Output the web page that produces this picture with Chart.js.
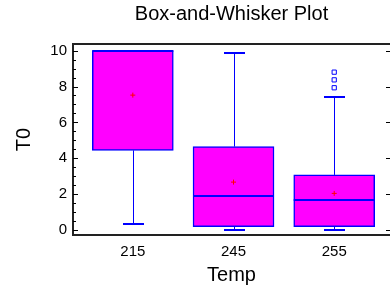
<!DOCTYPE html>
<html>
<head>
<meta charset="utf-8">
<script src="https://cdn.jsdelivr.net/npm/chart.js@4.4.0/dist/chart.umd.min.js"></script>
<style>
html, body { margin: 0; padding: 0; background: #fff; overflow: hidden; }
#wrap { position: absolute; left: 0; top: 0; width: 395px; height: 292px; }
</style>
</head>
<body>
<div id="wrap"><canvas id="myChart"></canvas></div>
<script>
// Data
const categories = ['215', '245', '255'];
const q1 = [4.44, 0.19, 0.19];
const q3 = [10.0, 4.65, 3.07];
const medians = [10.0, 1.91, 1.65];
const means = [7.52, 2.67, 2.04];
const whiskerLow = [0.33, 0.0, 0.0];
const whiskerHigh = [10.0, 9.85, 7.41];
const outlierCat = [2, 2, 2];
const outlierVal = [7.93, 8.37, 8.8];
const yTicks = [0, 2, 4, 6, 8, 10];

const FONT = "'Liberation Sans', Arial, sans-serif";
const BLUE = '#0000ff';

// whiskers, caps, medians and the frame with inward ticks
const boxParts = {
    id: 'boxParts',
    afterDatasetsDraw(chart) {
        const { ctx, chartArea, scales: { x, y } } = chart;
        const seg = (x1, y1, x2, y2) => {
            ctx.beginPath();
            ctx.moveTo(x1, y1);
            ctx.lineTo(x2, y2);
            ctx.stroke();
        };
        ctx.save();
        ctx.strokeStyle = BLUE;
        categories.forEach((c, i) => {
            const cx = Math.round(x.getPixelForValue(i)) + 0.5;
            const yq1 = y.getPixelForValue(q1[i]);
            const yq3 = y.getPixelForValue(q3[i]);
            const yLo = Math.round(y.getPixelForValue(whiskerLow[i]));
            const yHi = Math.round(y.getPixelForValue(whiskerHigh[i]));
            ctx.lineWidth = 1;
            if (whiskerHigh[i] > q3[i]) seg(cx, yq3, cx, yHi);
            if (whiskerLow[i] < q1[i]) seg(cx, yq1, cx, yLo);
            ctx.lineWidth = 2;
            if (whiskerHigh[i] > q3[i]) seg(cx - 10.5, yHi, cx + 10.5, yHi);
            if (whiskerLow[i] < q1[i]) seg(cx - 10.5, yLo, cx + 10.5, yLo);
            // median
            const meta = chart.getDatasetMeta(0).data[i];
            const half = meta.width / 2;
            const ym = Math.round(y.getPixelForValue(medians[i]));
            seg(meta.x - half, ym, meta.x + half, ym);
        });

        // frame
        ctx.strokeStyle = '#222';
        ctx.lineWidth = 2;
        const { left, right, top, bottom } = chartArea;
        seg(left, top, right, top);
        seg(left, top - 1, left, bottom + 1);
        seg(left - 1, bottom, right, bottom);
        // inward ticks on left (major + minor) and right (major)
        ctx.lineWidth = 1;
        ctx.strokeStyle = '#000';
        for (let v = 0; v <= 10; v += 0.5) {
            const py = Math.round(y.getPixelForValue(v)) + 0.5;
            const major = v % 2 === 0;
            seg(left, py, left + (major ? 5 : 3), py);
            if (major) seg(right, py, right - 4, py);
        }
        ctx.restore();
    }
};

const config = {
    type: 'bar',
    data: {
        datasets: [{
            type: 'bar',
            data: categories.map((c, i) => ({ x: i, y: [q1[i], q3[i]] })),
            backgroundColor: '#ff00ff',
            borderColor: BLUE,
            borderWidth: 1.5,
            borderSkipped: false,
            barThickness: 81,
            order: 2
        }, {
            type: 'scatter',
            data: categories.map((c, i) => ({ x: i, y: means[i] })),
            pointStyle: 'cross',
            pointRadius: 2.5,
            borderColor: '#ff0000',
            borderWidth: 1,
            order: 0
        }, {
            type: 'scatter',
            data: outlierVal.map((v, i) => ({ x: outlierCat[i], y: v })),
            pointStyle: 'rect',
            pointRadius: 3,
            backgroundColor: '#ffffff',
            borderColor: BLUE,
            borderWidth: 1,
            order: 0
        }]
    },
    options: {
        responsive: true,
        maintainAspectRatio: false,
        animation: false,
        layout: { padding: 0 },
        scales: {
            x: {
                type: 'linear',
                offset: false,
                min: -0.594,
                max: 2.554,
                afterBuildTicks: scale => { scale.ticks = categories.map((c, i) => ({ value: i })); },
                afterFit: scale => { scale.height = 57; },
                grid: { display: false, drawTicks: false, offset: false },
                border: { display: false },
                ticks: {
                    padding: 8,
                    color: '#000',
                    font: { family: FONT, size: 15 },
                    callback: v => categories[v]
                },
                title: {
                    display: true,
                    text: 'Temp',
                    color: '#000',
                    font: { family: FONT, size: 20 },
                    padding: { top: 0, bottom: 5 }
                }
            },
            y: {
                min: -0.28,
                max: 10.37,
                afterBuildTicks: scale => { scale.ticks = yTicks.map(v => ({ value: v })); },
                afterFit: scale => { scale.width = 73; },
                grid: { display: false, drawTicks: false },
                border: { display: false },
                ticks: {
                    padding: 6,
                    color: '#000',
                    font: { family: FONT, size: 15 },
                    callback: v => String(v)
                },
                title: {
                    display: true,
                    text: 'T0',
                    color: '#000',
                    font: { family: FONT, size: 20 },
                    padding: { top: 12, bottom: 0 }
                }
            }
        },
        plugins: {
            legend: { display: false },
            tooltip: { enabled: false },
            title: {
                display: true,
                text: 'Box-and-Whisker Plot',
                fullSize: false,
                color: '#000',
                font: { family: FONT, size: 20, weight: 'normal' },
                padding: { top: 2, bottom: 18 }
            }
        }
    },
    plugins: [boxParts]
};

const ctx = document.getElementById('myChart').getContext('2d');
new Chart(ctx, config);
</script>
</body>
</html>
